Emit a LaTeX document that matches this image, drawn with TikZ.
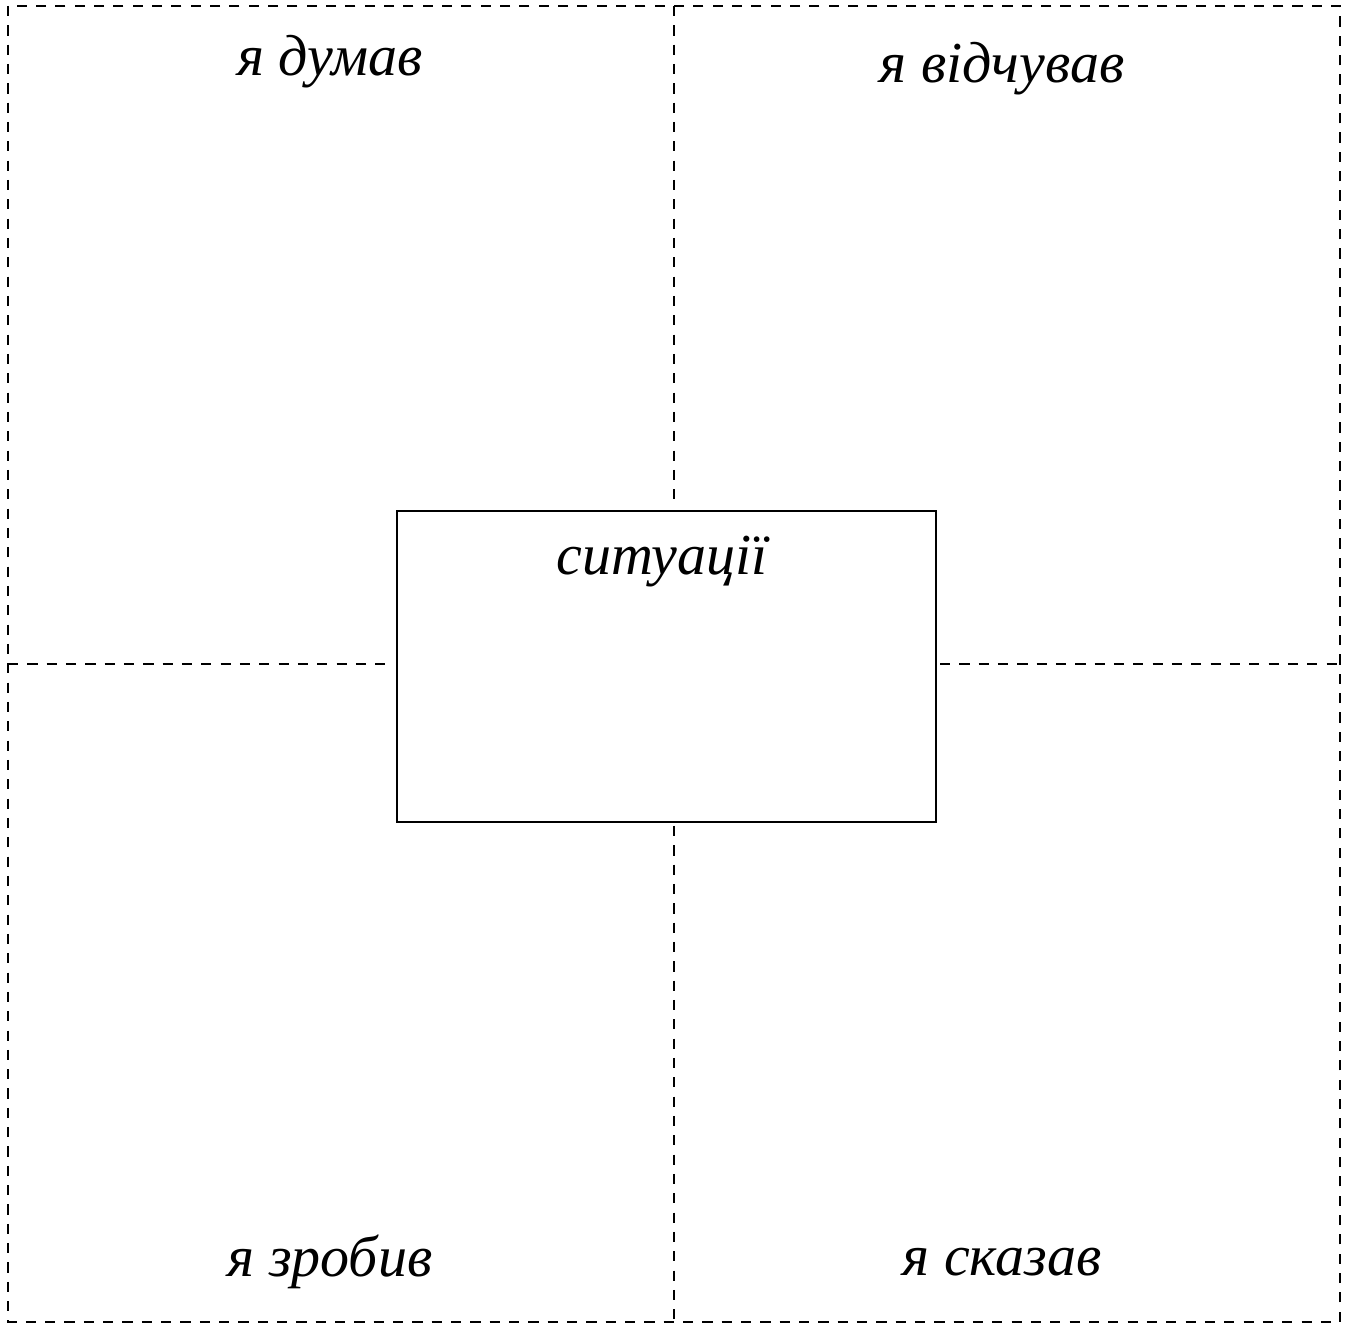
\documentclass[tikz,border=0pt]{standalone}
\usepackage{fontspec}
\setmainfont{Liberation Serif}
\begin{document}
\begin{tikzpicture}[
  frameline/.style={dash pattern=on 2.9pt off 2.6pt, line width=0.7pt},
  sitbox/.style={draw, line width=0.6pt, minimum width=5.39cm, minimum height=3.11cm, inner sep=0pt},
  hand/.style={font=\fontsize{16.5}{20}\selectfont\itshape, inner sep=0pt}
]
\useasboundingbox (0,0) rectangle (13.5,13.24);
\coordinate (tl) at (0.08,13.18);
\coordinate (br) at (13.40,0.02);
\draw[frameline] (tl) rectangle (br);
\node[sitbox] (box) at (6.665,6.575) {};
\coordinate (vt) at (6.74,13.18);
\coordinate (vte) at (6.74,8.22);
\coordinate (vbs) at (6.74,4.98);
\coordinate (vb) at (6.74,0.02);
\coordinate (hl) at (0.08,6.60);
\coordinate (hle) at (3.91,6.60);
\coordinate (hrs) at (9.40,6.60);
\coordinate (hr) at (13.40,6.60);
\draw[frameline] (vt) -- (vte);
\draw[frameline] (vbs) -- (vb);
\draw[frameline] (hl) -- (hle);
\draw[frameline] (hrs) -- (hr);
\node[hand] (t1) at (3.30,12.62) {я думав};
\node[hand] (t2) at (10.02,12.55) {я відчував};
\node[hand] (t3) at (6.62,7.62) {ситуації};
\node[hand] (t4) at (3.30,0.62) {я зробив};
\node[hand] (t5) at (10.02,0.62) {я сказав};
\end{tikzpicture}
\end{document}
